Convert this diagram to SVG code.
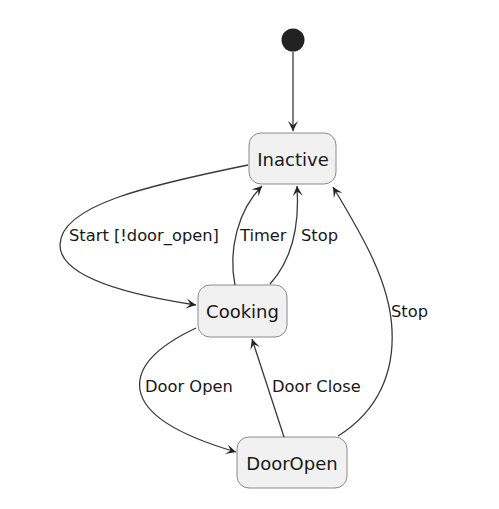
<svg xmlns="http://www.w3.org/2000/svg" width="499" height="509" viewBox="0 0 499 509">
<style>
.st rect{fill:#F1F1F1;stroke:#8a8a8a;stroke-width:1}
.st text{font-family:"DejaVu Sans",sans-serif;font-size:18px;fill:#181818;text-anchor:middle}
.e path{fill:none;stroke:#3a3a3a;stroke-width:1.3}
.lbl{font-family:"DejaVu Sans",sans-serif;font-size:16.3px;fill:#181818}
</style>
<defs>
<marker id="ah" viewBox="-11 -6 12 12" refX="0" refY="0" markerWidth="12" markerHeight="12" markerUnits="userSpaceOnUse" orient="auto">
<path d="M0,0 L-10,-5 L-5.5,0 L-10,5 Z" fill="#222"/>
</marker>
</defs>
<rect width="499" height="509" fill="#fff"/>
<g id="start"><circle cx="293" cy="40" r="11.5" fill="#222"/></g>
<g id="inactive" class="st"><rect x="249" y="133" width="87" height="51" rx="12"/><text x="293" y="165.5">Inactive</text></g>
<g id="cooking" class="st"><rect x="198" y="285" width="89" height="52" rx="12"/><text x="242.5" y="317.5">Cooking</text></g>
<g id="dooropen" class="st"><rect x="237" y="437" width="110" height="51" rx="12"/><text x="292" y="469.5">DoorOpen</text></g>
<g id="connectors" class="e">
<path d="M293,52 L293,131" marker-end="url(#ah)"/>
<path d="M248,165 C150,185 60,205 60,245 C60,278 130,295 196,305" marker-end="url(#ah)"/>
<path d="M235,285 C228,250 238,210 262,186" marker-end="url(#ah)"/>
<path d="M270,284 C290,262 300,230 297,186" marker-end="url(#ah)"/>
<path d="M338,436 C380,410 394,370 392,330 C390,282 362,235 333,187" marker-end="url(#ah)"/>
<path d="M196,328 C160,345 136,365 140,390 C145,420 195,440 236,452" marker-end="url(#ah)"/>
<path d="M284,437 L252,339" marker-end="url(#ah)"/>
</g>
<g id="labels">
<text class="lbl" x="69" y="241">Start [!door_open]</text>
<text class="lbl" x="240" y="241">Timer</text>
<text class="lbl" x="301" y="241">Stop</text>
<text class="lbl" x="391" y="317">Stop</text>
<text class="lbl" x="145" y="392">Door Open</text>
<text class="lbl" x="272" y="392">Door Close</text>
</g>
</svg>
